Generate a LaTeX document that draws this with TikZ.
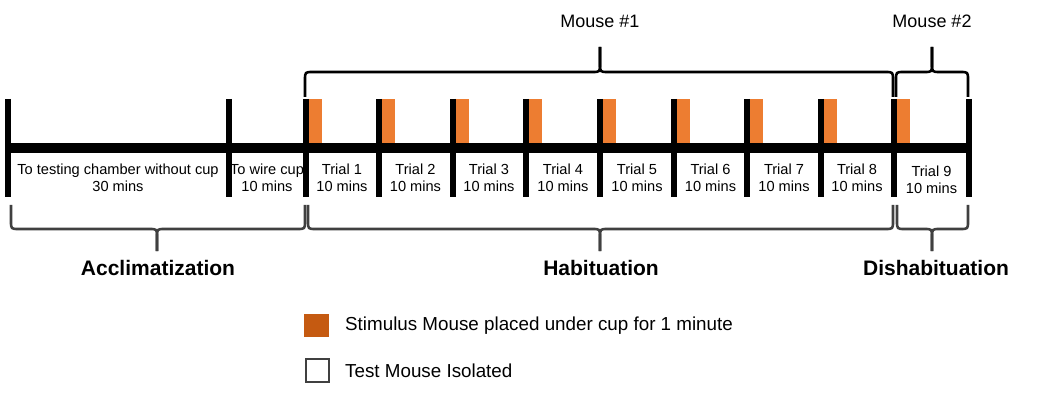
\documentclass[tikz,border=0pt]{standalone}
\usepackage{fontspec}
\setmainfont{Liberation Sans}
\usetikzlibrary{calc}
\definecolor{stimorange}{HTML}{ED7D31}
\definecolor{legorange}{HTML}{C55A11}
\definecolor{bracegray}{HTML}{404040}
\newcommand\mybrace[8]{%
  \draw[#8] (#1,#4) -- ({#1},{#5+#7}) .. controls (#1,#5) .. ({#1+abs(#7)},#5)
    -- ({#3-abs(#7)},#5) .. controls (#3,#5) .. ({#3},{#5-#7}) -- (#3,#6);
  \draw[#8] (#3,#6) -- ({#3},{#5-#7}) .. controls (#3,#5) .. ({#3+abs(#7)},#5)
    -- ({#2-abs(#7)},#5) .. controls (#2,#5) .. ({#2},{#5+#7}) -- (#2,#4);
}
\begin{document}
\begin{tikzpicture}[x=1pt,y=-1pt,
  tickline/.style={line width=6pt},
  barline/.style={line width=10pt},
  stim/.style={fill=stimorange,draw=none},
  topbrace/.style={line width=2.6pt,black,line join=round},
  botbrace/.style={line width=2.6pt,bracegray,line join=round},
  seglabel/.style={font=\fontsize{14.6}{17.5}\selectfont,align=center,inner sep=0pt},
  phase/.style={font=\bfseries\fontsize{21}{25}\selectfont,inner sep=0pt},
  mouselabel/.style={font=\fontsize{18}{21}\selectfont,inner sep=0pt},
  legtext/.style={font=\fontsize{18.8}{22}\selectfont,anchor=west,inner sep=0pt}]
\useasboundingbox (0,0) rectangle (1056,395);
% tick positions
\foreach \n/\x in {0/8,1/228.5,2/306,3/379,4/452.5,5/526,6/600,7/673.5,8/747,9/820.5,10/894,11/969}{
  \coordinate (t\n) at (\x,148);
}
% orange stimulus bars
\foreach \n in {2,...,10}{
  \fill[stim] ($(t\n)+(3,-49)$) rectangle ($(t\n)+(16,-4)$);
}
% main bar
\draw[barline] (t0) -- (t11);
% ticks
\foreach \n in {0,...,11}{
  \draw[tickline] ($(t\n)+(0,-49)$) -- ($(t\n)+(0,49)$);
}
% segment labels
\node[seglabel] (s0) at (118,178) {To testing chamber without cup\\30 mins};
\node[seglabel] (s1) at (267,178) {To wire cup\\10 mins};
\foreach \i/\x in {1/342,2/415.5,3/489,4/563,5/637,6/710.5,7/784,8/857}{
  \node[seglabel] (trial\i) at (\x,178) {Trial \i\\10 mins};
}
\node[seglabel] (trial9) at (931.5,180) {Trial 9\\10 mins};
% top braces
\mybrace{305}{893}{600}{97}{72}{47}{8}{topbrace}
\mybrace{896}{968}{932}{97}{72}{47}{8}{topbrace}
\node[mouselabel] (m1) at (600,21) {Mouse \#1};
\node[mouselabel] (m2) at (932,21) {Mouse \#2};
% bottom braces
\mybrace{11}{305}{157}{205}{229}{251}{-8}{botbrace}
\mybrace{308}{893}{600}{205}{229}{251}{-8}{botbrace}
\mybrace{897}{968}{932}{205}{229}{251}{-8}{botbrace}
\node[phase] (acc) at (158,268) {Acclimatization};
\node[phase] (hab) at (601,268) {Habituation};
\node[phase] (dis) at (936,268) {Dishabituation};
% legend
\node[fill=legorange,draw=none,minimum width=25pt,minimum height=23pt,inner sep=0pt] (lg1) at (316.5,325.5) {};
\node[legtext] (lt1) at (345,326) {Stimulus Mouse placed under cup for 1 minute};
\node[fill=white,draw=bracegray,line width=1.4pt,minimum width=23pt,minimum height=23pt,inner sep=0pt] (lg2) at (317.5,370.5) {};
\node[legtext] (lt2) at (345,371) {Test Mouse Isolated};
\end{tikzpicture}
\end{document}
